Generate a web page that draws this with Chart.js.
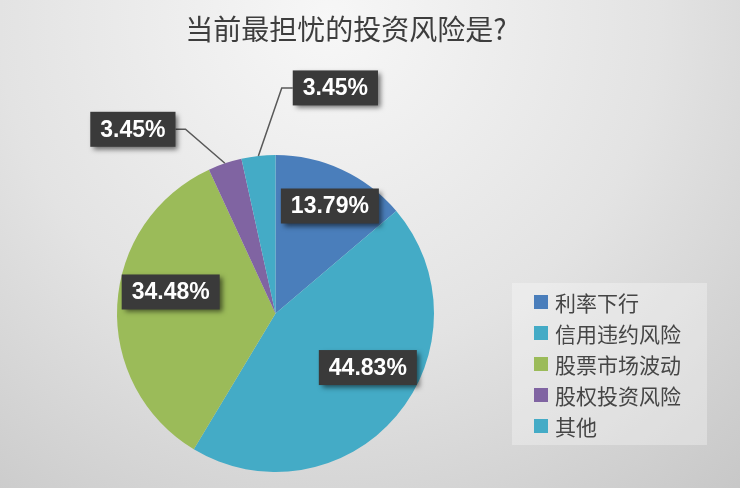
<!DOCTYPE html>
<html>
<head>
<meta charset="utf-8">
<script src="https://cdn.jsdelivr.net/npm/chart.js@4/dist/chart.umd.min.js"></script>
<style>
  body { margin: 0; background: #ddd; }
  #wrap { width: 740px; height: 488px; }
</style>
</head>
<body>
<div id="wrap"><canvas id="riskPie" width="740" height="488"></canvas></div>
<script>
// data (29 answers in total)
const chartTitle = '当前最担忧的投资风险是?';
const categories = ['利率下行', '信用违约风险', '股票市场波动', '股权投资风险', '其他'];
const counts = [4, 13, 10, 1, 1];
const sliceColors = ['#4a7ebb', '#44abc6', '#9bbb59', '#8064a2', '#44abc6'];

// where each percentage box sits (style only)
// inside: r = fraction of radius, shift = degrees added to the slice mid angle
// outside: dx/dy = box centre offset from the slice's outer edge point
const labelPlace = [
  { r: 0.76, shift: 2 },
  { r: 0.675, shift: -10 },
  { r: 0.675, shift: 8.5 },
  { out: true, dx: -92, dy: -34, side: 'left' },
  { out: true, dx: 77, dy: -68, side: 'right' }
];

const total = counts.reduce((a, b) => a + b, 0);
const pct = v => (v / total * 100).toFixed(2) + '%';

const bgPlugin = {
  id: 'bg',
  beforeDraw(chart) {
    const ctx = chart.ctx;
    const g = ctx.createRadialGradient(330, 20, 0, 330, 20, 660);
    g.addColorStop(0, '#f7f7f7');
    g.addColorStop(0.5, '#e3e3e3');
    g.addColorStop(1, '#c4c4c4');
    ctx.save();
    ctx.fillStyle = g;
    ctx.fillRect(0, 0, chart.width, chart.height);
    ctx.restore();
  }
};

const decorPlugin = {
  id: 'decor',
  afterDraw(chart) {
    const ctx = chart.ctx;
    ctx.save();

    // title
    ctx.fillStyle = '#3d3d3d';
    ctx.font = '28px "Noto Sans CJK SC"';
    ctx.textAlign = 'center';
    ctx.textBaseline = 'middle';
    ctx.fillText(chartTitle, 346, 29);

    // legend
    ctx.fillStyle = 'rgba(255,255,255,0.3)';
    ctx.fillRect(512, 283, 195, 162);
    ctx.font = '21px "Noto Sans CJK SC"';
    ctx.textAlign = 'left';
    categories.forEach((c, i) => {
      const y = 302 + i * 31;
      ctx.fillStyle = sliceColors[i];
      ctx.fillRect(534, y - 7, 14, 14);
      ctx.fillStyle = '#454545';
      ctx.fillText(c, 555, y + 1);
    });

    // percentage boxes
    const arcs = chart.getDatasetMeta(0).data;
    ctx.font = 'bold 23px "Liberation Sans", Arial, sans-serif';
    ctx.textAlign = 'center';
    arcs.forEach((arc, i) => {
      const p = labelPlace[i];
      const mid = (arc.startAngle + arc.endAngle) / 2;
      const R = arc.outerRadius;
      const text = pct(counts[i]);
      const w = ctx.measureText(text).width + 20;
      const h = 35;
      let bx, by;
      if (p.out) {
        const ex = arc.x + Math.cos(mid) * R;
        const ey = arc.y + Math.sin(mid) * R;
        bx = ex + p.dx;
        by = ey + p.dy;
        const sx = p.side === 'left' ? bx + w / 2 : bx - w / 2;
        const kx = p.side === 'left' ? sx + 10 : sx - 11;
        ctx.strokeStyle = '#595959';
        ctx.lineWidth = 1.5;
        ctx.beginPath();
        ctx.moveTo(sx, by);
        ctx.lineTo(kx, by);
        ctx.lineTo(ex, ey);
        ctx.stroke();
      } else {
        const a = mid + p.shift * Math.PI / 180;
        bx = arc.x + Math.cos(a) * R * p.r;
        by = arc.y + Math.sin(a) * R * p.r;
      }
      ctx.save();
      ctx.shadowColor = 'rgba(0,0,0,0.55)';
      ctx.shadowBlur = 5;
      ctx.shadowOffsetX = 3;
      ctx.shadowOffsetY = 3;
      ctx.fillStyle = '#3a3a3a';
      ctx.fillRect(bx - w / 2, by - h / 2, w, h);
      ctx.restore();
      ctx.fillStyle = '#ffffff';
      ctx.fillText(text, bx, by + 1);
    });

    ctx.restore();
  }
};

new Chart(document.getElementById('riskPie'), {
  type: 'pie',
  data: {
    labels: categories,
    datasets: [{
      data: counts,
      backgroundColor: sliceColors,
      borderWidth: 0
    }]
  },
  options: {
    responsive: false,
    animation: false,
    layout: {
      padding: { left: 117, right: 306, top: 155, bottom: 16 }
    },
    plugins: {
      legend: { display: false },
      title: { display: false },
      tooltip: { enabled: false }
    }
  },
  plugins: [bgPlugin, decorPlugin]
});
</script>
</body>
</html>
